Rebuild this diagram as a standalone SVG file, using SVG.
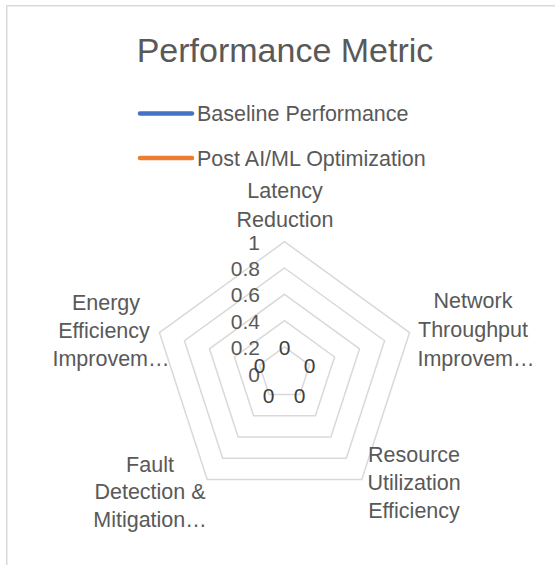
<svg xmlns="http://www.w3.org/2000/svg" width="555" height="565" viewBox="0 0 555 565">
  <style>
    text { font-family: "Liberation Sans", Arial, sans-serif; }
    .title { font-size: 34px; fill: #595959; text-anchor: middle; }
    .legend { font-size: 21.5px; fill: #595959; }
    .axis { font-size: 21.5px; fill: #595959; text-anchor: middle; }
    .tick { font-size: 21px; fill: #595959; text-anchor: end; }
    .val { font-size: 21px; fill: #404040; text-anchor: middle; }
    .ring { fill: none; stroke: #d9d9d9; stroke-width: 1.5; stroke-linejoin: miter; }
    .key { stroke-width: 4.5; stroke-linecap: round; }
  </style>

  <rect width="555" height="565" fill="#ffffff"/>
  <!-- chart area frame -->
  <rect x="6.75" y="5.75" width="600" height="600" fill="none" stroke="#d9d9d9" stroke-width="1.5"/>

  <text class="title" x="285" y="62">Performance Metric</text>

  <!-- legend -->
  <g id="legend">
    <line class="key" x1="140" y1="113.5" x2="192" y2="113.5" stroke="#4472c4"/>
    <text class="legend" x="197" y="121">Baseline Performance</text>
    <line class="key" x1="140" y1="158" x2="192" y2="158" stroke="#ed7d31"/>
    <text class="legend" x="197" y="165.5">Post AI/ML Optimization</text>
  </g>

  <!-- radar grid rings (0.2 .. 1.0) -->
  <g id="grid">
    <polygon class="ring" points="284.5,241.7 409.56,332.56 361.79,479.59 207.21,479.59 159.44,332.56"/>
    <polygon class="ring" points="284.5,268.0 384.55,340.69 346.33,458.31 222.67,458.31 184.45,340.69"/>
    <polygon class="ring" points="284.5,294.3 359.54,348.82 330.88,437.03 238.12,437.03 209.46,348.82"/>
    <polygon class="ring" points="284.5,320.6 334.53,356.95 315.42,415.75 253.58,415.75 234.47,356.95"/>
    <polygon class="ring" points="284.5,346.9 309.51,365.07 299.96,394.48 269.04,394.48 259.49,365.07"/>
  </g>

  <!-- radial axis ticks -->
  <g id="ticks">
    <text class="tick" x="260" y="250">1</text>
    <text class="tick" x="260" y="276">0.8</text>
    <text class="tick" x="260" y="302">0.6</text>
    <text class="tick" x="260" y="328.5">0.4</text>
    <text class="tick" x="260" y="354.5">0.2</text>
    <text class="tick" x="260" y="381.5">0</text>
  </g>

  <!-- category labels -->
  <g id="cat-latency">
    <text class="axis" x="285" y="198">Latency</text>
    <text class="axis" x="285" y="227">Reduction</text>
  </g>
  <g id="cat-throughput">
    <text class="axis" x="473" y="308">Network</text>
    <text class="axis" x="473" y="337">Throughput</text>
    <text class="axis" x="476" y="366">Improvem…</text>
  </g>
  <g id="cat-resource">
    <text class="axis" x="414" y="462">Resource</text>
    <text class="axis" x="414" y="490">Utilization</text>
    <text class="axis" x="414" y="518">Efficiency</text>
  </g>
  <g id="cat-fault">
    <text class="axis" x="150" y="471.5">Fault</text>
    <text class="axis" x="150" y="499">Detection &amp;</text>
    <text class="axis" x="150" y="527">Mitigation…</text>
  </g>
  <g id="cat-energy">
    <text class="axis" x="106" y="310">Energy</text>
    <text class="axis" x="104" y="338">Efficiency</text>
    <text class="axis" x="111" y="366">Improvem…</text>
  </g>

  <!-- series data (all values zero, collapsed at centre) -->
  <g id="series">
    <polygon points="284.5,373.2 284.5,373.2 284.5,373.2 284.5,373.2 284.5,373.2" fill="none" stroke="#4472c4" stroke-width="2.25"/>
    <polygon points="284.5,373.2 284.5,373.2 284.5,373.2 284.5,373.2 284.5,373.2" fill="none" stroke="#ed7d31" stroke-width="2.25"/>
  </g>

  <!-- data labels -->
  <g id="values">
    <text class="val" x="284.5" y="355">0</text>
    <text class="val" x="309.5" y="373">0</text>
    <text class="val" x="299.5" y="403">0</text>
    <text class="val" x="268.5" y="403">0</text>
    <text class="val" x="259.5" y="373">0</text>
  </g>
</svg>
